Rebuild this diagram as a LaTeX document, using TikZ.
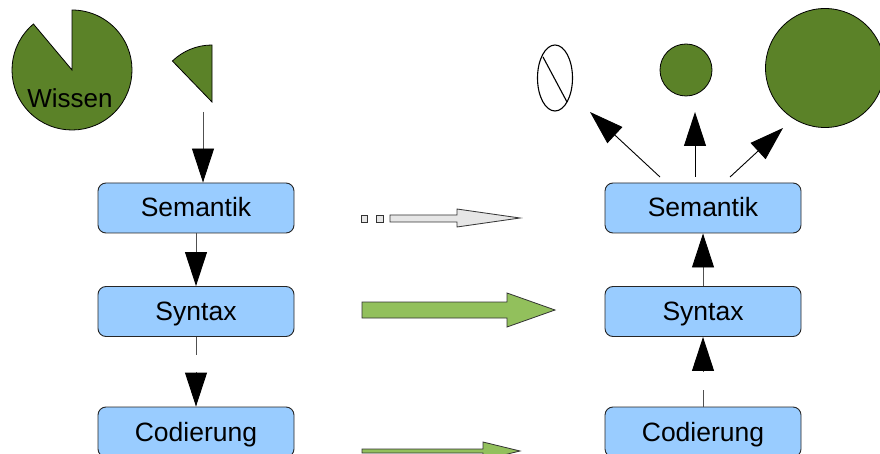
\documentclass[tikz,border=0pt]{standalone}
\usepackage{fontspec}
\setmainfont{Liberation Sans}
\usetikzlibrary{arrows.meta}
\definecolor{dkgreen}{RGB}{91,130,40}
\definecolor{ltgreen}{RGB}{146,192,92}
\definecolor{boxblue}{RGB}{153,204,255}
\definecolor{ltgray}{RGB}{230,230,230}
\definecolor{linegray}{RGB}{80,80,80}
\tikzset{
  layerbox/.style={draw=black!85, line width=0.9pt, fill=boxblue, rounded corners=8pt,
    minimum width=196pt, minimum height=50pt, inner sep=0pt,
    text height=18pt, text depth=0pt,
    font=\fontsize{26.5}{30}\selectfont},
  bigtip/.style={line width=0.9pt, draw=linegray, -{Triangle[length=34pt,width=22pt,color=black]}},
  plainline/.style={line width=0.9pt, draw=linegray},
  greenpie/.style={fill=dkgreen, draw=black, line width=0.8pt},
  blockarrow/.style={draw=black!80, line width=0.8pt, line join=miter}
}
\begin{document}
\begin{tikzpicture}[x=1pt,y=1pt]
\clip (0,0) rectangle (880,-454);
\fill[white] (0,0) rectangle (880,-454);
% Wissen pie
\draw[greenpie] (72,-70) -- ++(130:60pt) arc[start angle=130, end angle=450, radius=60pt] -- cycle;
\node[anchor=base, font=\fontsize{26}{30}\selectfont] (wissen) at (70,-108) {Wissen};
% removed wedge
\draw[greenpie] (212,-102) -- ++(90:57pt) arc[start angle=90, end angle=134, radius=57pt] -- cycle;
\coordinate (wedge) at (203,-112);
% left column
\node[layerbox] (sem1) at (196,-208) {Semantik};
\node[layerbox] (syn1) at (196,-311.5) {Syntax};
\node[layerbox] (cod1) at (196,-432) {Codierung};
\draw[bigtip] (wedge) -- (wedge |- sem1.north);
\draw[bigtip] (sem1.south) -- (syn1.north);
\coordinate (l1) at (196,-355);
\coordinate (l2) at (196,-372);
\draw[plainline] (syn1.south) -- (l1);
\draw[bigtip] (l2) -- (cod1.north);
% right column
\node[layerbox] (sem2) at (703,-208) {Semantik};
\node[layerbox] (syn2) at (703,-311.5) {Syntax};
\node[layerbox] (cod2) at (703,-432) {Codierung};
\draw[bigtip] (syn2.north) -- (sem2.south);
\coordinate (r1) at (703,-390);
\coordinate (r2) at (703,-372);
\draw[plainline] (cod2.north) -- (r1);
\draw[bigtip] (r2) -- (syn2.south);
% top right shapes
\draw[line width=1.1pt, fill=white] (555,-78) ellipse [x radius=17.5pt, y radius=33pt];
\draw[line width=1.1pt] (543,-57) -- (567,-102);
\node[circle, draw=black, line width=0.8pt, fill=dkgreen, minimum size=52pt, inner sep=0pt] (small) at (686,-70) {};
\node[circle, draw=black, line width=0.8pt, fill=dkgreen, minimum size=119pt, inner sep=0pt] (big) at (825,-68) {};
\coordinate (s1) at (660,-177);
\coordinate (s2) at (695,-177);
\coordinate (s3) at (730,-177);
\coordinate (t1) at (590,-112);
\coordinate (t2) at (695,-112);
\coordinate (t3) at (783,-128);
\draw[bigtip, draw=black] (s1) -- (t1);
\draw[bigtip, draw=black] (s2) -- (t2);
\draw[bigtip, draw=black] (s3) -- (t3);
% horizontal block arrows
\draw[blockarrow, fill=ltgray] (361,-215) rectangle (367,-222);
\draw[blockarrow, fill=ltgray] (376,-215) rectangle (383,-222);
\draw[blockarrow, fill=ltgray] (390,-215) -- (457,-215) -- (457,-209) -- (520,-218) -- (457,-227) -- (457,-222) -- (390,-222) -- cycle;
\draw[blockarrow, fill=ltgreen] (362,-302) -- (507,-302) -- (507,-293) -- (555,-310) -- (507,-327) -- (507,-318) -- (362,-318) -- cycle;
\draw[blockarrow, fill=ltgreen] (362,-449) -- (483,-449) -- (483,-442) -- (520,-451) -- (483,-460) -- (483,-453) -- (362,-453) -- cycle;
\end{tikzpicture}
\end{document}
